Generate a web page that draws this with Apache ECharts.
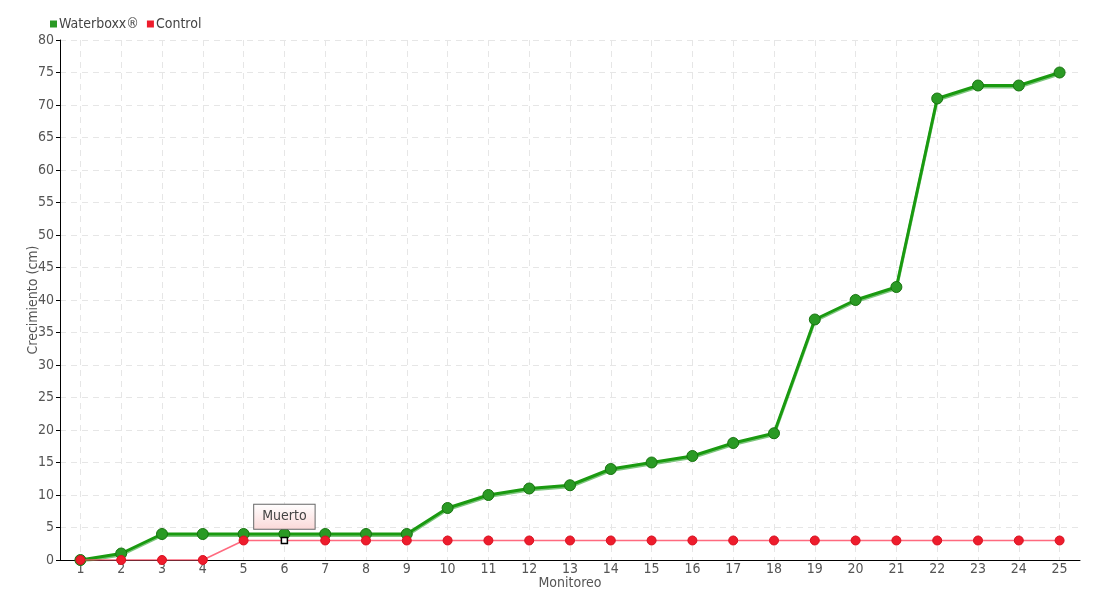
<!DOCTYPE html>
<html><head><meta charset="utf-8">
<script src="https://cdn.jsdelivr.net/npm/echarts@6/dist/echarts.min.js"></script>
<style>html,body{margin:0;padding:0;background:#fff}#c{width:1100px;height:600px}</style>
</head><body><div id="c"></div>
<script>
const categories = ['1','2','3','4','5','6','7','8','9','10','11','12','13','14','15','16','17','18','19','20','21','22','23','24','25'];
const waterboxx = [0,1,4,4,4,4,4,4,4,8,10,11,11.5,14,15,16,18,19.5,37,40,42,71,73,73,75];
const control = [0,0,0,0,3,3,3,3,3,3,3,3,3,3,3,3,3,3,3,3,3,3,3,3,3];
const annotationIndex = 5;
const annotationText = 'Muerto';

const FONT = "'DejaVu Sans Condensed','Liberation Sans Narrow','Liberation Sans',sans-serif";
const chart = echarts.init(document.getElementById('c'));
const controlData = control.map((v,i) => i === annotationIndex ? {
  value: v, symbol: 'rect', symbolSize: 6,
  itemStyle: {color: '#fff', borderColor: '#000', borderWidth: 1.5},
  label: {show: true, formatter: annotationText, position: 'top', distance: 8,
    color: '#444', fontFamily: FONT, fontSize: 14, padding: [5, 8],
    borderColor: '#666', borderWidth: 1,
    backgroundColor: {type:'linear', x:0, y:0, x2:0, y2:1, colorStops:[{offset:0,color:'#ffffff'},{offset:1,color:'#fbd8d8'}]}}
} : v);
chart.setOption({
  animation: false,
  textStyle: {fontFamily: FONT},
  legend: {left: 45, top: 12, icon: 'rect', itemWidth: 7, itemHeight: 7, itemGap: 8,
    itemStyle: {borderWidth: 0},
    textStyle: {color: '#444', fontSize: 14, fontFamily: FONT, padding: [0,0,0,-3]},
    data: ['Waterboxx®', 'Control']},
  grid: {left: 60, right: 20, top: 40, bottom: 40},
  xAxis: {type: 'category', data: categories, boundaryGap: true,
    name: 'Monitoreo', nameLocation: 'middle', nameGap: 16, nameMoveOverlap: false,
    nameTextStyle: {color: '#555', fontSize: 14, fontFamily: FONT},
    axisLine: {lineStyle: {color: '#000', width: 1}},
    axisTick: {alignWithLabel: true, length: 4, lineStyle: {color: '#000'}},
    axisLabel: {color: '#555', fontSize: 14, fontFamily: FONT, margin: 2, interval: 0},
    splitLine: {show: true, alignWithLabel: true, lineStyle: {color: '#e6e6e6', type: [6, 5]}}},
  yAxis: {type: 'value', min: 0, max: 80, interval: 5,
    name: 'Crecimiento (cm)', nameLocation: 'middle', nameGap: 20, nameMoveOverlap: false,
    nameTextStyle: {color: '#555', fontSize: 14, fontFamily: FONT},
    axisLine: {show: true, lineStyle: {color: '#000', width: 1}},
    axisTick: {show: true, length: 4, lineStyle: {color: '#000'}},
    axisLabel: {color: '#555', fontSize: 14, fontFamily: FONT, margin: 6},
    splitLine: {show: true, lineStyle: {color: '#e6e6e6', type: [6, 5]}}},
  series: [
    {name: 'Waterboxx®', type: 'line', data: waterboxx, z: 2,
      symbol: 'circle', symbolSize: 11, color: '#1a9a10',
      itemStyle: {color: '#2a9a24', borderColor: '#17740f', borderWidth: 1},
      lineStyle: {color: '#1a9a10', width: 3, shadowColor: 'rgba(40,160,40,0.6)', shadowBlur: 0, shadowOffsetY: 1.5}},
    {name: 'Control', type: 'line', data: controlData, z: 3,
      symbol: 'circle', symbolSize: 9, color: '#ee1c2c',
      itemStyle: {color: '#ee1c2c', borderColor: '#d81020', borderWidth: 1},
      lineStyle: {color: '#ff5068', width: 1.5, opacity: 0.85}}
  ]
});
</script></body></html>
